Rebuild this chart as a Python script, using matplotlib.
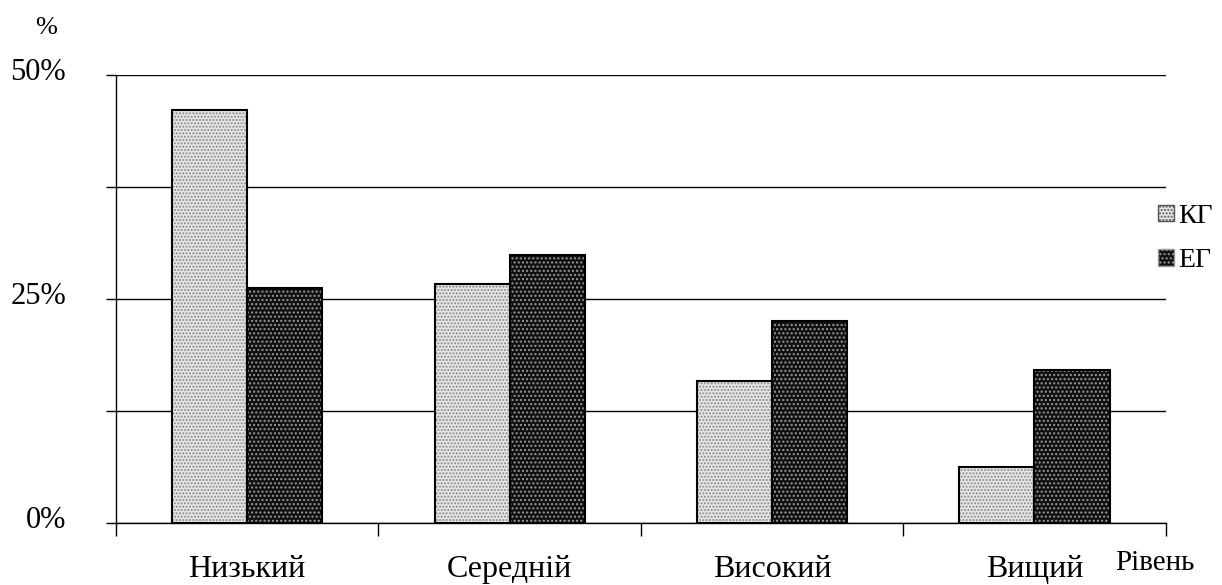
import matplotlib.pyplot as plt
import matplotlib.transforms as mtransforms
import numpy as np
from matplotlib.patches import Patch

plt.rcParams['font.family'] = ['Liberation Serif', 'DejaVu Serif']
plt.rcParams['hatch.linewidth'] = 1.0

categories = ['Низький', 'Середній', 'Високий', 'Вищий']
kg = [46.1, 26.7, 15.8, 6.2]
eg = [26.2, 29.9, 22.5, 17.1]
series_names = ['КГ', 'ЕГ']

fig = plt.figure(figsize=(12.22, 5.85), dpi=100)
ax = fig.add_axes([0.0949, 0.106, 0.859, 0.766])

x = np.arange(len(categories))
w = 0.286

# fill with dotted texture, then black outline on top
ax.bar(x - w/2, kg, w, color='#e6e6e6', edgecolor='#8a8a8a', hatch='.....', linewidth=0, zorder=3)
ax.bar(x + w/2, eg, w, color='#111111', edgecolor='#9a9a9a', hatch='....', linewidth=0, zorder=3)
ax.bar(x - w/2, kg, w, fill=False, edgecolor='black', linewidth=1.5, zorder=4)
ax.bar(x + w/2, eg, w, fill=False, edgecolor='black', linewidth=1.5, zorder=4)

# legend proxies
h1 = Patch(facecolor='#e6e6e6', edgecolor='#555555', hatch='.....', label=series_names[0])
h2 = Patch(facecolor='#111111', edgecolor='#9a9a9a', hatch='....', label=series_names[1])
ax.legend(handles=[h1, h2], loc='center left', bbox_to_anchor=(0.993, 0.635), frameon=False,
          fontsize=20, handlelength=0.55, handleheight=0.55, handletextpad=0.15, labelspacing=0.7,
          borderaxespad=0, borderpad=0)

ax.set_xlim(-0.5, len(categories) - 0.5)
ax.set_ylim(0, 50)
ax.set_yticks([0, 12.5, 25, 37.5, 50])
ax.set_yticklabels(['0%', '', '25%', '', '50%'], fontsize=22)
ax.yaxis.grid(True, color='black', linewidth=1.0, zorder=0)
ax.tick_params(axis='y', length=7, width=1.0, pad=29)
shift = mtransforms.ScaledTranslation(0, 4/72, fig.dpi_scale_trans)
for lab in ax.get_yticklabels():
    lab.set_transform(lab.get_transform() + shift)

ax.set_xticks(x)
ax.set_xticklabels(categories, fontsize=23)
ax.set_xticks(np.arange(len(categories) + 1) - 0.5, minor=True)
ax.tick_params(axis='x', which='major', length=0, pad=23)
ax.tick_params(axis='x', which='minor', length=9, width=1.0, direction='out')

for s in ['top', 'right']:
    ax.spines[s].set_visible(False)
ax.spines['left'].set_linewidth(1.0)
ax.spines['bottom'].set_linewidth(1.0)

fig.text(0.038, 0.952, '%', fontsize=19, ha='center', va='center')
fig.text(0.945, 0.026, 'Рівень', fontsize=21, ha='center', va='baseline')

fig.savefig('out.png', dpi=100)
